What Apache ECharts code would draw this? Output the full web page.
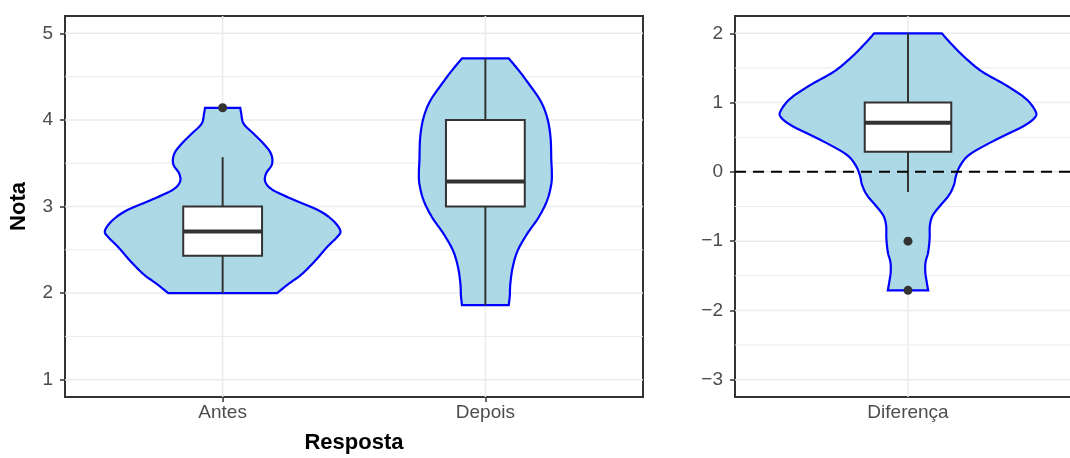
<!DOCTYPE html>
<html>
<head>
<meta charset="utf-8">
<script src="https://cdn.jsdelivr.net/npm/echarts@6/dist/echarts.min.js"></script>
<style>
html,body{margin:0;padding:0;background:#fff;}
#chart{width:1070px;height:458px;}
</style>
</head>
<body>
<div id="chart"></div>
<script>
// ---------- data ----------
const categoriesLeft = ['Antes', 'Depois'];
const categoriesRight = ['Diferença'];
const yTicksLeft = [1, 2, 3, 4, 5];
const yMinorLeft = [1.5, 2.5, 3.5, 4.5];
const yTicksRight = [-3, -2, -1, 0, 1, 2];
const yMinorRight = [-2.5, -1.5, -0.5, 0.5, 1.5];

// violin outlines: [value, half-width]
const violinAntes = [[2.0,0.207],[2.106,0.251],[2.22,0.302],[2.376,0.353],[2.53,0.397],[2.645,0.435],[2.72,0.448],[2.838,0.42],[2.954,0.366],[3.07,0.277],[3.185,0.194],[3.28,0.163],[3.378,0.165],[3.49,0.188],[3.61,0.184],[3.725,0.156],[3.84,0.118],[3.956,0.08],[4.07,0.071],[4.14,0.067]];
const violinDepois = [[1.86,0.089],[1.97,0.093],[2.106,0.095],[2.298,0.104],[2.49,0.123],[2.684,0.159],[2.876,0.203],[3.07,0.235],[3.26,0.251],[3.4,0.253],[3.532,0.251],[3.80,0.248],[4.03,0.235],[4.225,0.209],[4.418,0.165],[4.572,0.127],[4.71,0.089]];
const violinDiferenca = [[-1.71,0.07],[-1.592,0.065],[-1.447,0.06],[-1.302,0.061],[-1.158,0.07],[-0.964,0.075],[-0.771,0.076],[-0.627,0.086],[-0.482,0.113],[-0.337,0.142],[-0.192,0.159],[-0.048,0.167],[0.097,0.182],[0.242,0.211],[0.386,0.269],[0.531,0.338],[0.676,0.407],[0.796,0.442],[0.893,0.44],[1.062,0.407],[1.255,0.338],[1.447,0.257],[1.64,0.2],[1.834,0.153],[2.0,0.117]];

// box stats: [lower whisker, q1, median, q3, upper whisker]
const boxAntes = [2.0, 2.43, 2.71, 3.0, 3.57];
const boxDepois = [1.86, 3.0, 3.29, 4.0, 4.71];
const boxDiferenca = [-0.29, 0.29, 0.71, 1.0, 2.0];
const outliersAntes = [4.14];
const outliersDiferenca = [-1.0, -1.71];
const refLineRight = [0];

// ---------- chart ----------
const FONT = "'Liberation Sans', Arial, sans-serif";
const X1 = [0.4, 2.6], Y1 = [0.8, 5.2];
const X2 = [0.4, 1.6], Y2 = [-3.25, 2.25];
const minus = v => (v < 0 ? '\u2212' + Math.abs(v) : String(v));

// smooth a pixel-space polyline (Catmull-Rom) for drawing
function smoothPts(pts) {
  const out = [];
  const n = pts.length;
  for (let i = 0; i < n - 1; i++) {
    const p0 = pts[Math.max(i - 1, 0)], p1 = pts[i], p2 = pts[i + 1], p3 = pts[Math.min(i + 2, n - 1)];
    const c1 = [p1[0] + (p2[0] - p0[0]) / 6, p1[1] + (p2[1] - p0[1]) / 6];
    const c2 = [p2[0] - (p3[0] - p1[0]) / 6, p2[1] - (p3[1] - p1[1]) / 6];
    const S = 10;
    for (let s = 0; s < S; s++) {
      const t = s / S, u = 1 - t;
      out.push([
        u*u*u*p1[0] + 3*u*u*t*c1[0] + 3*u*t*t*c2[0] + t*t*t*p2[0],
        u*u*u*p1[1] + 3*u*u*t*c1[1] + 3*u*t*t*c2[1] + t*t*t*p2[1]
      ]);
    }
  }
  out.push(pts[n - 1]);
  return out;
}

function gridRender(xr, yr) {
  return function (params, api) {
    const kind = api.value(0), v = api.value(1);
    let p1, p2;
    if (kind === 2) { p1 = api.coord([v, yr[0]]); p2 = api.coord([v, yr[1]]); }
    else { p1 = api.coord([xr[0], v]); p2 = api.coord([xr[1], v]); }
    return { type: 'line', shape: { x1: p1[0], y1: p1[1], x2: p2[0], y2: p2[1] },
      style: { stroke: '#EBEBEB', lineWidth: kind === 1 ? 1 : 1.5 } };
  };
}
function violinRender(profiles) {
  return function (params, api) {
    const xc = api.value(0);
    const prof = profiles[params.dataIndex];
    const right = smoothPts(prof.map(p => api.coord([xc + p[1], p[0]])));
    const left = smoothPts(prof.slice().reverse().map(p => api.coord([xc - p[1], p[0]])));
    return { type: 'polygon', shape: { points: right.concat(left) },
      style: { fill: '#ADD8E6', stroke: '#0000FF', lineWidth: 2.2, lineJoin: 'miter' } };
  };
}
function boxRender(params, api) {
  const xc = api.value(0), lo = api.value(1), q1 = api.value(2), md = api.value(3), q3 = api.value(4), hi = api.value(5);
  const hw = 0.15;
  const a = api.coord([xc - hw, q3]), b = api.coord([xc + hw, q1]);
  const m1 = api.coord([xc - hw, md]), m2 = api.coord([xc + hw, md]);
  const w1 = api.coord([xc, hi]), w2 = api.coord([xc, q3]);
  const w3 = api.coord([xc, q1]), w4 = api.coord([xc, lo]);
  const st = { stroke: '#333333', lineWidth: 2 };
  return { type: 'group', children: [
    { type: 'line', shape: { x1: w1[0], y1: w1[1], x2: w2[0], y2: w2[1] }, style: st },
    { type: 'line', shape: { x1: w3[0], y1: w3[1], x2: w4[0], y2: w4[1] }, style: st },
    { type: 'rect', shape: { x: a[0], y: a[1], width: b[0] - a[0], height: b[1] - a[1] },
      style: { fill: '#FFFFFF', stroke: '#333333', lineWidth: 2 } },
    { type: 'line', shape: { x1: m1[0], y1: m1[1], x2: m2[0], y2: m2[1] }, style: { stroke: '#333333', lineWidth: 4 } }
  ] };
}
function dashRender(params, api) {
  const v = api.value(0);
  const p1 = api.coord([X2[0], v]), p2 = api.coord([X2[1], v]);
  return { type: 'line', shape: { x1: p1[0], y1: p1[1], x2: p2[0], y2: p2[1] },
    style: { stroke: '#000000', lineWidth: 2, lineDash: [11, 7] } };
}

const gridData1 = yTicksLeft.map(v => [0, v]).concat(yMinorLeft.map(v => [1, v]))
  .concat(categoriesLeft.map((c, i) => [2, i + 1]));
const gridData2 = yTicksRight.map(v => [0, v]).concat(yMinorRight.map(v => [1, v]))
  .concat(categoriesRight.map((c, i) => [2, i + 1]));

const axisLabelCommon = { color: '#4D4D4D', fontSize: 19, fontFamily: FONT };
const tickCommon = { show: true, length: 5, lineStyle: { color: '#333333', width: 1.5 } };

const option = {
  backgroundColor: '#FFFFFF',
  animation: false,
  grid: [
    { left: 65, top: 16, width: 578, height: 381, outerBoundsMode: 'none', containLabel: false,
      show: true, borderColor: '#333333', borderWidth: 2, backgroundColor: 'transparent' },
    { left: 735, top: 16, width: 346, height: 381, outerBoundsMode: 'none', containLabel: false,
      show: true, borderColor: '#333333', borderWidth: 2, backgroundColor: 'transparent' }
  ],
  xAxis: [
    { type: 'value', gridIndex: 0, min: X1[0], max: X1[1],
      name: 'Resposta', nameLocation: 'middle', nameGap: 35,
      nameTextStyle: { color: '#000000', fontSize: 22, fontWeight: 'bold', fontFamily: FONT },
      axisLine: { show: false }, splitLine: { show: false },
      axisTick: Object.assign({ customValues: categoriesLeft.map((c, i) => i + 1) }, tickCommon),
      axisLabel: Object.assign({ margin: 6, customValues: categoriesLeft.map((c, i) => i + 1),
        formatter: v => categoriesLeft[Math.round(v) - 1] || '' }, axisLabelCommon) },
    { type: 'value', gridIndex: 1, min: X2[0], max: X2[1],
      axisLine: { show: false }, splitLine: { show: false },
      axisTick: Object.assign({ customValues: categoriesRight.map((c, i) => i + 1) }, tickCommon),
      axisLabel: Object.assign({ margin: 6, customValues: categoriesRight.map((c, i) => i + 1),
        formatter: v => categoriesRight[Math.round(v) - 1] || '' }, axisLabelCommon) }
  ],
  yAxis: [
    { type: 'value', gridIndex: 0, min: Y1[0], max: Y1[1],
      name: 'Nota', nameLocation: 'middle', nameGap: 35, nameRotate: 90,
      nameTextStyle: { color: '#000000', fontSize: 22, fontWeight: 'bold', fontFamily: FONT },
      axisLine: { show: false }, splitLine: { show: false },
      axisTick: Object.assign({ customValues: yTicksLeft }, tickCommon),
      axisLabel: Object.assign({ margin: 12, customValues: yTicksLeft, formatter: minus }, axisLabelCommon) },
    { type: 'value', gridIndex: 1, min: Y2[0], max: Y2[1],
      axisLine: { show: false }, splitLine: { show: false },
      axisTick: Object.assign({ customValues: yTicksRight }, tickCommon),
      axisLabel: Object.assign({ margin: 12, customValues: yTicksRight, formatter: minus }, axisLabelCommon) }
  ],
  series: [
    { type: 'custom', xAxisIndex: 0, yAxisIndex: 0, z: 1, silent: true, renderItem: gridRender(X1, Y1), data: gridData1 },
    { type: 'custom', xAxisIndex: 1, yAxisIndex: 1, z: 1, silent: true, renderItem: gridRender(X2, Y2), data: gridData2 },
    { type: 'custom', xAxisIndex: 0, yAxisIndex: 0, z: 2, renderItem: violinRender([violinAntes, violinDepois]), data: [[1], [2]] },
    { type: 'custom', xAxisIndex: 1, yAxisIndex: 1, z: 2, renderItem: violinRender([violinDiferenca]), data: [[1]] },
    { type: 'custom', xAxisIndex: 0, yAxisIndex: 0, z: 3, renderItem: boxRender,
      data: [[1].concat(boxAntes), [2].concat(boxDepois)] },
    { type: 'custom', xAxisIndex: 1, yAxisIndex: 1, z: 3, renderItem: boxRender,
      data: [[1].concat(boxDiferenca)] },
    { type: 'scatter', xAxisIndex: 0, yAxisIndex: 0, z: 4, symbolSize: 9, itemStyle: { color: '#333333', opacity: 1 },
      data: outliersAntes.map(v => [1, v]) },
    { type: 'scatter', xAxisIndex: 1, yAxisIndex: 1, z: 4, symbolSize: 9, itemStyle: { color: '#333333', opacity: 1 },
      data: outliersDiferenca.map(v => [1, v]) },
    { type: 'custom', xAxisIndex: 1, yAxisIndex: 1, z: 5, renderItem: dashRender, data: refLineRight.map(v => [v]) }
  ]
};

const chart = echarts.init(document.getElementById('chart'), null, { renderer: 'canvas' });
chart.setOption(option);
</script>
</body>
</html>
